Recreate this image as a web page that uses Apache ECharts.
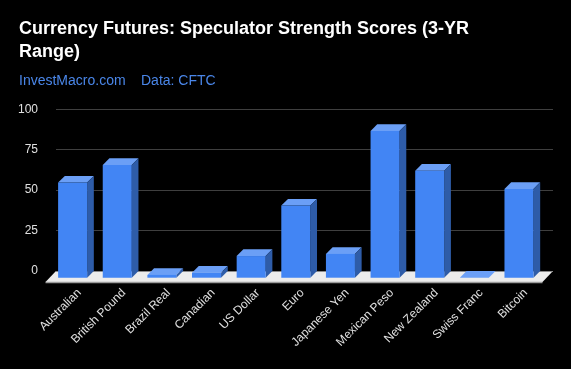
<!DOCTYPE html>
<html>
<head>
<meta charset="utf-8">
<script src="https://cdn.jsdelivr.net/npm/echarts@6/dist/echarts.min.js"></script>
<style>
html,body{margin:0;padding:0;background:#000;}
#c{width:571px;height:369px;}
</style>
</head>
<body>
<div id="c"></div>
<script>
var categories = ['Australian','British Pound','Brazil Real','Canadian','US Dollar','Euro','Japanese Yen','Mexican Peso','New Zealand','Swiss Franc','Bitcoin'];
var scores = [58.8, 69.7, 1.7, 3.1, 13.4, 44.6, 14.7, 90.8, 66.2, 0, 54.9];
var yTicks = [0, 25, 50, 75, 100];

var FONT = '"Liberation Sans", Arial, sans-serif';
var D = 6.7;          // bar depth offset (px)
var FD_X = 10.5, FD_Y = 11; // floor depth offset

var chart = echarts.init(document.getElementById('c'), null, {renderer:'canvas'});

function renderBar(params, api) {
  var i = api.value(0), v = api.value(1);
  var top = api.coord([i, v]);
  var base = api.coord([i, 0]);
  var w = api.size([1, 0])[0] * 0.65;
  var cx = top[0];
  var xl = cx - w / 2, xr = cx + w / 2;
  var ty = top[1], by = base[1];
  return {
    type: 'group',
    children: [
      { type: 'polygon', shape: { points: [[xl - D, ty + D], [xr - D, ty + D], [xr, ty], [xl, ty]] },
        style: { fill: '#6b9ff6' } },
      { type: 'polygon', shape: { points: [[xr - D, ty + D], [xr, ty], [xr, by], [xr - D, by + D]] },
        style: { fill: '#2e5ca8' } },
      { type: 'rect', shape: { x: xl - D, y: ty + D, width: w, height: by - ty },
        style: { fill: '#4285f4' } }
    ]
  };
}

function renderFloor(params, api) {
  var cs = params.coordSys;
  var x0 = cs.x, x1 = cs.x + cs.width, y0 = cs.y + cs.height;
  return {
    type: 'group',
    children: [
      { type: 'polygon', shape: { points: [[x0, y0], [x1, y0], [x1 - FD_X, y0 + FD_Y], [x0 - FD_X, y0 + FD_Y]] },
        style: { fill: '#ececec' } },
      { type: 'line', shape: { x1: x0 - FD_X, y1: y0 + FD_Y + 0.5, x2: x1 - FD_X, y2: y0 + FD_Y + 0.5 },
        style: { stroke: '#9a9a9a', lineWidth: 1.5 } },
      { type: 'line', shape: { x1: x0, y1: y0 + 0.5, x2: x1, y2: y0 + 0.5 },
        style: { stroke: '#8a8a8a', lineWidth: 1 } }
    ]
  };
}

var option = {
  backgroundColor: '#000000',
  animation: false,
  title: [
    { text: 'Currency Futures: Speculator Strength Scores (3-YR\nRange)', left: 19, top: 17, padding: 0,
      textStyle: { color: '#ffffff', fontSize: 18, fontWeight: 'bold', fontFamily: FONT, lineHeight: 23.5 } },
    { text: 'InvestMacro.com', left: 19, top: 74.5, padding: 0,
      textStyle: { color: '#4a86e8', fontSize: 14, fontWeight: 'normal', fontFamily: FONT } },
    { text: 'Data: CFTC', left: 141, top: 74.5, padding: 0,
      textStyle: { color: '#4a86e8', fontSize: 14, fontWeight: 'normal', fontFamily: FONT } }
  ],
  grid: [
    { left: 56, right: 18, top: 109.3, bottom: 98 },
    { left: 57, right: 23, top: 109.3, bottom: 98 }
  ],
  xAxis: [
    { type: 'value', gridIndex: 0, min: 0, max: 1, show: false },
    { type: 'category', gridIndex: 1, data: categories,
      axisLine: { show: false }, axisTick: { show: false },
      axisLabel: { rotate: 45, interval: 0, margin: 20, color: '#e0e0e0', fontSize: 12, fontFamily: FONT } }
  ],
  yAxis: [
    { type: 'value', gridIndex: 0, min: yTicks[0], max: yTicks[yTicks.length - 1], interval: 25,
      axisLine: { show: false }, axisTick: { show: false },
      axisLabel: { color: '#e0e0e0', fontSize: 12, margin: 18, fontFamily: FONT },
      splitLine: { lineStyle: { color: '#3f3f3f', width: 1 } } },
    { type: 'value', gridIndex: 1, min: yTicks[0], max: yTicks[yTicks.length - 1], interval: 25,
      show: false, splitLine: { show: false } }
  ],
  series: [
    { type: 'custom', xAxisIndex: 0, yAxisIndex: 0, renderItem: renderFloor, data: [[0, 0]], silent: true, z: 1 },
    { type: 'custom', xAxisIndex: 1, yAxisIndex: 1, renderItem: renderBar,
      data: scores.map(function (v, i) { return [i, v]; }), z: 2 }
  ]
};
chart.setOption(option);
</script>
</body>
</html>
